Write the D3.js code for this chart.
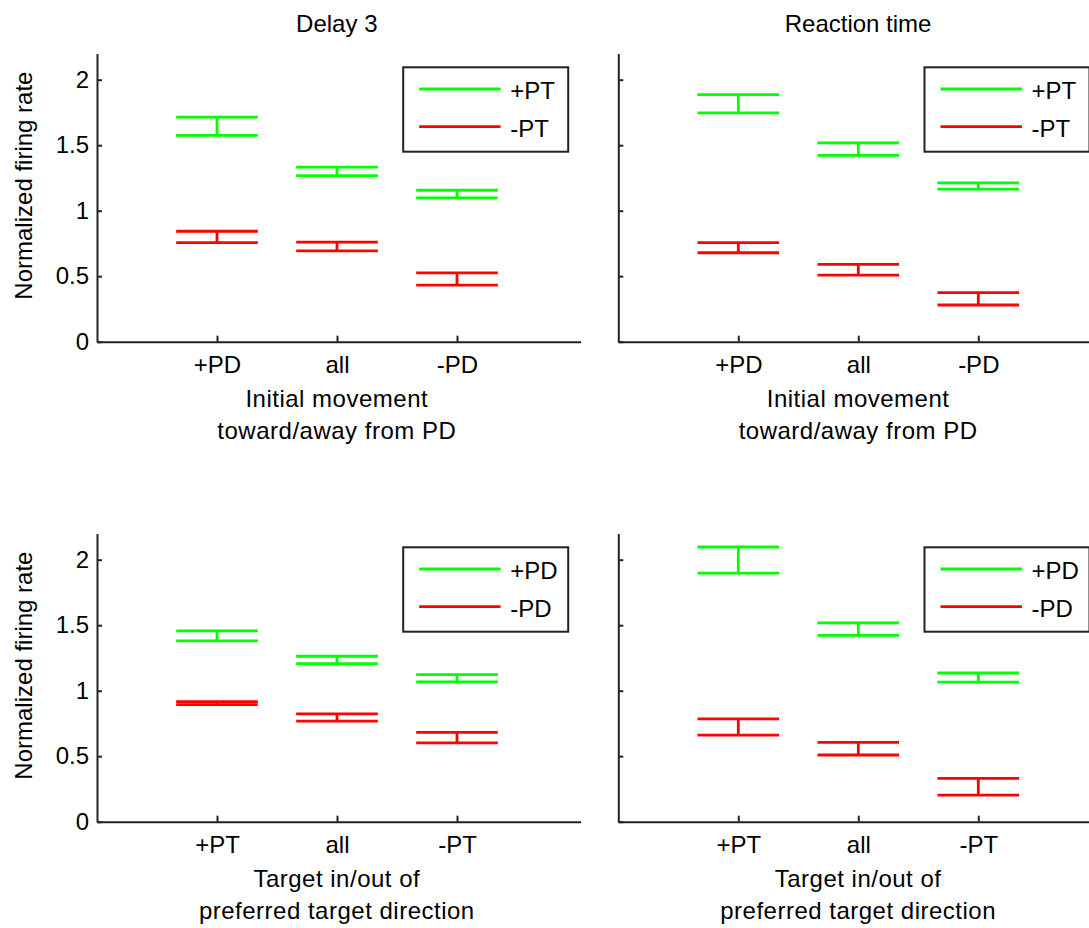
<!DOCTYPE html>
<html>
<head>
<meta charset="utf-8">
<script src="https://cdn.jsdelivr.net/npm/d3@7"></script>
<style>
  body { margin: 0; background: #fff; }
  svg text { font-family: "Liberation Sans", Arial, sans-serif; font-size: 24px; fill: #000; }
</style>
</head>
<body>
<svg id="chart" width="1089" height="928"></svg>
<script>
const green = "#00ff00";
const red = "#ff0000";
const axisColor = "#222";

// titles and labels
const colTitles = ["Delay 3", "Reaction time"];
const yLabel = "Normalized firing rate";
const yTicks = [0, 0.5, 1, 1.5, 2];

// top row: initial movement toward/away from PD, series = +PT / -PT
const moveCats = ["+PD", "all", "-PD"];
const moveLabel = ["Initial movement", "toward/away from PD"];
const moveSeries = ["+PT", "-PT"];
const moveDelayPlus = [1.645, 1.300, 1.127];
const moveDelayPlusErr = [0.070, 0.032, 0.029];
const moveDelayMinus = [0.800, 0.727, 0.479];
const moveDelayMinusErr = [0.043, 0.033, 0.047];
const moveRTPlus = [1.816, 1.470, 1.188];
const moveRTPlusErr = [0.070, 0.047, 0.024];
const moveRTMinus = [0.718, 0.549, 0.327];
const moveRTMinusErr = [0.039, 0.041, 0.047];

// bottom row: target in/out of preferred target direction, series = +PD / -PD
const targCats = ["+PT", "all", "-PT"];
const targLabel = ["Target in/out of", "preferred target direction"];
const targSeries = ["+PD", "-PD"];
const targDelayPlus = [1.418, 1.235, 1.095];
const targDelayPlusErr = [0.038, 0.028, 0.028];
const targDelayMinus = [0.905, 0.795, 0.642];
const targDelayMinusErr = [0.012, 0.028, 0.040];
const targRTPlus = [1.997, 1.470, 1.100];
const targRTPlusErr = [0.100, 0.047, 0.035];
const targRTMinus = [0.723, 0.557, 0.267];
const targRTMinusErr = [0.062, 0.048, 0.064];

const panels = [
  { row: 0, col: 0, cats: moveCats, xlab: moveLabel, names: moveSeries,
    series: [[moveDelayPlus, moveDelayPlusErr], [moveDelayMinus, moveDelayMinusErr]] },
  { row: 0, col: 1, cats: moveCats, xlab: moveLabel, names: moveSeries,
    series: [[moveRTPlus, moveRTPlusErr], [moveRTMinus, moveRTMinusErr]] },
  { row: 1, col: 0, cats: targCats, xlab: targLabel, names: targSeries,
    series: [[targDelayPlus, targDelayPlusErr], [targDelayMinus, targDelayMinusErr]] },
  { row: 1, col: 1, cats: targCats, xlab: targLabel, names: targSeries,
    series: [[targRTPlus, targRTPlusErr], [targRTMinus, targRTMinusErr]] }
];

const colors = [green, red];
const AX_LEFT = [97, 618.3];
const AX_WIDTH = 483.6;
const AX_BOTTOM = [341.7, 821.7];
const AX_HEIGHT = 288.2;
const CAP_HALF = 0.34;
const BAR_WIDTH = 2.8;

const svg = d3.select("#chart");

panels.forEach(p => {
  const left = AX_LEFT[p.col];
  const bottom = AX_BOTTOM[p.row];
  const top = bottom - AX_HEIGHT;
  const x = d3.scaleLinear().domain([0, 4.03]).range([left, left + AX_WIDTH]);
  const y = d3.scaleLinear().domain([0, 2.2]).range([bottom, top]);
  const g = svg.append("g");

  // error bars: two caps joined by a stem
  p.series.forEach(([means, errs], si) => {
    const bars = g.append("g")
      .attr("stroke", colors[si])
      .attr("stroke-width", BAR_WIDTH)
      .attr("fill", "none")
      .selectAll("g")
      .data(means.map((m, i) => ({ i: i + 1, m, e: errs[i] })))
      .enter().append("g");
    bars.append("line")
      .attr("x1", d => x(d.i)).attr("x2", d => x(d.i))
      .attr("y1", d => y(d.m - d.e)).attr("y2", d => y(d.m + d.e));
    [1, -1].forEach(s => {
      bars.append("line")
        .attr("x1", d => x(d.i - CAP_HALF)).attr("x2", d => x(d.i + CAP_HALF))
        .attr("y1", d => y(d.m + s * d.e)).attr("y2", d => y(d.m + s * d.e));
    });
  });

  // axes, ticks pointing inward
  const yAxis = d3.axisLeft(y).tickValues(yTicks).tickSize(-5).tickSizeOuter(0).tickPadding(8)
    .tickFormat(p.col === 0 ? d3.format("") : () => "");
  const xAxis = d3.axisBottom(x).tickValues([1, 2, 3]).tickSize(-6).tickSizeOuter(0).tickPadding(14)
    .tickFormat(v => p.cats[v - 1]);

  const ya = g.append("g").attr("transform", `translate(${left},0)`).call(yAxis);
  const xa = g.append("g").attr("transform", `translate(0,${bottom})`).call(xAxis);
  [ya, xa].forEach(a => {
    a.select(".domain").attr("stroke", axisColor).attr("stroke-width", 2);
    a.selectAll(".tick line").attr("stroke", axisColor).attr("stroke-width", 2);
    a.selectAll("text").attr("font-size", null).attr("font-family", null);
  });

  // x label (two lines)
  const cx = left + AX_WIDTH / 2 - 2;
  g.append("text").attr("x", cx).attr("y", bottom + 65).attr("text-anchor", "middle")
    .attr("letter-spacing", 0.5).text(p.xlab[0]);
  g.append("text").attr("x", cx).attr("y", bottom + 97).attr("text-anchor", "middle")
    .attr("letter-spacing", 0.5).text(p.xlab[1]);

  if (p.col === 0) {
    g.append("text")
      .attr("transform", `translate(31.5,${(top + bottom) / 2 - 12}) rotate(-90)`)
      .attr("text-anchor", "middle")
      .text(yLabel);
  }
  if (p.row === 0) {
    g.append("text").attr("x", cx).attr("y", 32).attr("text-anchor", "middle").text(colTitles[p.col]);
  }

  // legend box in the upper right
  const lx = left + AX_WIDTH - 12.4 - 165;
  const ly = top + 13.8;
  const lg = g.append("g").attr("transform", `translate(${lx},${ly})`);
  lg.append("rect").attr("width", 165).attr("height", 84.4)
    .attr("fill", "#fff").attr("stroke", axisColor).attr("stroke-width", 2);
  p.names.forEach((n, i) => {
    const ry = 21.7 + i * 37.7;
    lg.append("line").attr("x1", 16).attr("x2", 97.4).attr("y1", ry).attr("y2", ry)
      .attr("stroke", colors[i]).attr("stroke-width", BAR_WIDTH);
    lg.append("text").attr("x", 107).attr("y", ry + 10).text(n);
  });
});
</script>
</body>
</html>
